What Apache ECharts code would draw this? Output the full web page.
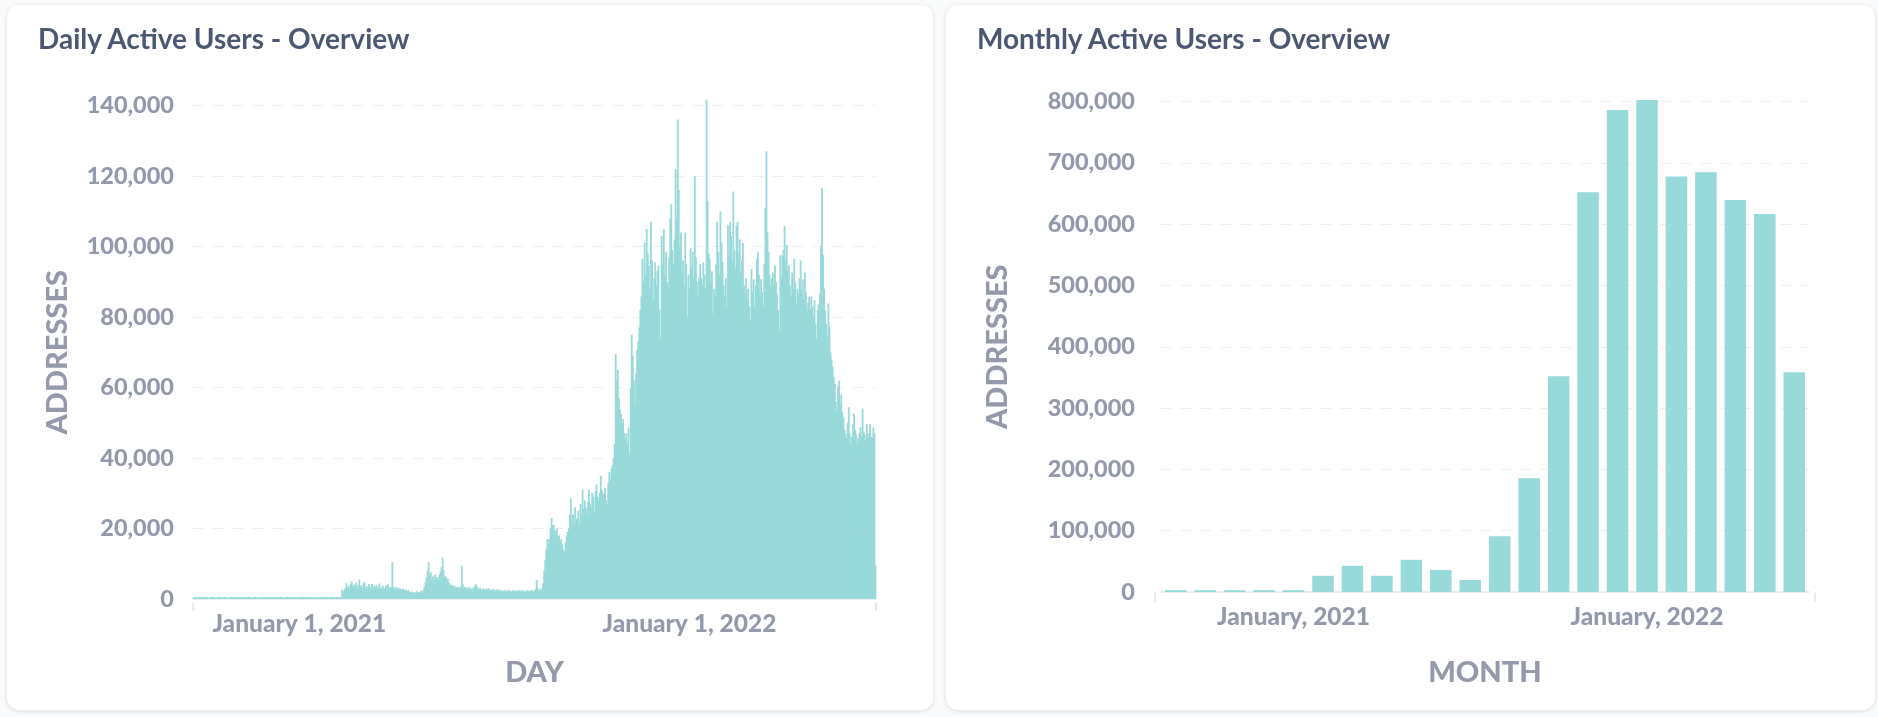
<!DOCTYPE html>
<html><head><meta charset="utf-8">
<script src="https://cdn.jsdelivr.net/npm/echarts@6/dist/echarts.min.js"></script>
<style>
html,body{margin:0;padding:0;width:1878px;height:717px;background:#F9FAFB;overflow:hidden;font-family:Lato,sans-serif;}
.card{position:absolute;top:5px;height:705px;background:#fff;border-radius:12px;box-shadow:0 1px 4px rgba(0,0,0,0.13);}
#c1{left:7px;width:926px;}
#c2{left:946px;width:929px;}
.chart{position:absolute;left:0;top:0;width:100%;height:100%;}
.title{position:absolute;left:31px;top:16px;font-family:Lato;font-weight:700;font-size:28px;line-height:normal;color:#4C5773;white-space:nowrap;}
</style></head>
<body>
<div class="card" id="c1"><div class="chart" id="ch1"></div><div class="title">Daily Active Users - Overview</div></div>
<div class="card" id="c2"><div class="chart" id="ch2"></div><div class="title">Monthly Active Users - Overview</div></div>
<script>
// ---- DATA ----
const dailyStartDate = '2020-09-24';
// daily active addresses, in thousands, one value per day from dailyStartDate
const dailyA = [
0.5,0.4,0.6,0.5,0.3,0.5,0.6,0.4,0.5,0.5,
0.4,0.6,0.5,0.5,0.3,0.4,0.5,0.6,0.5,0.4,
0.5,0.4,0.3,0.5,0.6,0.5,0.4,0.5,0.5,0.6,
0.4,0.5,0.3,0.4,0.5,0.6,0.5,0.4,0.5,0.5,
0.6,0.4,0.5,0.3,0.5,0.4,0.6,0.5,0.4,0.5,
0.5,0.4,0.6,0.5,0.3,0.4,0.5,0.5,0.6,0.4,
0.5,0.3,0.4,0.5,0.6,0.5,0.4,0.5,0.5,0.4,
0.6,0.5,0.4,0.5,0.3,0.5,0.6,0.4,0.5,0.5,
0.4,0.5,0.6,0.5,0.4,0.3,0.5,0.5,0.6,0.4,
0.5,0.4,0.5,0.6,0.5,0.4,0.5,0.3,0.5,0.6,
0.4,0.5,0.5,0.6,0.4,0.5,0.3,0.5,0.4,0.6,
0.5,0.5,0.4,0.6,0.5,0.3,0.5,0.4,0.5,0.6,
0.4,0.5,0.5,0.6,0.4,0.5,0.3,0.5,0.4,0.5,
0.6,0.5,0.4,0.5,0.5,0.6,0.4,0.5,0.5];
const dailyB = [
2.7,1.8,2.5,3.2,4.5,3.1,3.8,2.9,4.2,5.0,3.6,
4.1,3.3,4.6,3.0,3.9,5.5,3.4,4.0,3.2,4.4,
4.8,3.1,3.6,2.8,4.2,3.5,3.0,4.3,2.9,3.7,
3.2,4.0,2.8,3.5,4.4,3.1,2.9,3.8,3.3,2.7,
3.9,3.0,4.2,2.8,3.4,3.1,10.5,3.3,2.9,3.5,
2.7,3.2,2.6,3.0,2.8,2.4,2.9,2.6,2.3,2.7,
2.2,2.5,2.0,1.8,2.1,1.7,2.0,1.9,1.6,2.2,
1.8,2.0,1.7,2.4,1.9,2.6,3.5,4.8,6.2,8.0,
10.5,6.8,7.5,5.2,6.4,5.0,7.0,5.6,6.2,5.4,
6.8,7.8,9.0,11.7,8.2,6.0,6.4,5.2,5.8,4.6,
4.2,3.6,4.0,3.3,3.8,3.1,3.5,2.9,3.4,3.0,
3.6,9.5,4.2,3.0,3.5,2.7,3.2,2.8,3.4,2.6,
3.0,2.7,3.3,3.5,4.2,3.6,3.0,2.6,3.2,2.8,
2.5,3.0,2.7,2.4,2.9,2.6,3.1,2.3,2.7,2.5,
2.9,2.4,2.6,2.2,2.8,2.5,2.3,2.7,2.1,2.4,
2.2,2.6,2.0,2.3,2.5,2.1,2.4,2.2,2.0,2.5,
2.3,2.1,2.4,2.0,2.6,2.2,2.3,2.5,2.1,2.4,
2.2,2.0,2.5,2.3,2.1,2.4,2.2,2.6,2.0,2.3,
2.8,5.4,3.2,2.4,2.6,3.0,2.5];
const dailyC = [
4.5,8.0,11.0,14.0,17.0,15.5,17.0,20.0,23.0,21.0,
21.0,19.5,18.5,20.0,17.5,18.0,16.0,17.0,15.5,14.0,
13.5,16.0,18.0,19.0,20.0,24.0,28.6,22.0,24.0,21.0,
26.0,22.5,23.0,25.0,21.5,27.0,24.0,31.0,25.5,28.0,
26.0,24.0,27.5,31.0,27.0,26.0,30.0,29.0,25.0,30.5,
32.5,29.0,28.0,30.0,35.0,31.0,30.0,29.5,31.5,28.0,
27.0,33.0,36.0,34.0,37.0,38.0,40.0,44.0];
const dailyD = [
69.5,62.0,65.0,57.0,54.0,52.5,50.0,51.0,47.0,45.7,
47.0,44.0,48.7,41.0,60.0,75.0,69.0,62.0,55.5,64.0,70.6,73.0,77.0];
const dailyE = [
82.0,85.8,96.5,90.0,101.0,92.0,105.0,98.0,94.6,88.0,
107.0,96.0,84.8,91.0,95.5,89.0,93.0,94.6,82.0,74.0,
103.0,95.0,105.0,92.0,98.5,90.0,88.0,97.0,108.0,112.0,
99.0,95.0,102.0,122.0,108.0,136.0,116.0,100.0,104.0,93.0,
96.0,89.0,104.0,95.0,80.0,92.0,88.0,99.5,94.0,98.5,
91.0,120.0,97.0,90.0,86.0,91.0,95.0,91.0,89.0,95.5,
92.0,88.0];
const dailyF = [
141.7,113.0,98.0,96.5,90.0,93.0,81.0,88.0,86.0,95.0,
107.0,98.5,92.0,110.0,101.0,95.5,89.0,86.0,91.0,83.0,
106.0,97.0,107.0,103.0,96.0,115.6,99.0,94.0,106.0,107.0,
98.0,102.0,92.6,96.0,101.0,89.0,86.6,91.0,84.8,88.0,
83.0,79.0,93.6,87.0,90.7,83.0,89.0,96.5,98.5,92.0,
86.6,90.7,87.0,83.0,95.0,111.0,127.0];
const dailyG = [
104.0,98.5,92.0,88.8,91.0,92.6,89.0,94.6,90.0,86.6,
82.0,76.0,97.5,91.0,97.5,99.0,105.8,96.0,100.5,93.0,
94.6,89.0,86.0,92.6,88.0,96.5,89.7,84.0,88.0,86.6,
91.0,96.0,88.0,90.7,85.0,92.6,87.0,81.9,84.0,85.8,
82.0,85.8,83.0,80.0,84.8,78.0,74.0,82.0,83.8,86.6,
100.0,116.6,97.5,88.0,81.9,78.0,74.9,83.8,77.0,70.0,
68.0,65.8,63.0,61.0];
const dailyH = [
56.0,53.5,60.0,62.0,55.0,58.0,53.0,51.6,48.0,47.0,
45.7,50.0,54.4,47.0,43.8,46.0,49.6,52.6,48.0,46.7,
44.0,45.7,47.0,48.7,46.0,54.0,47.5,46.7,45.0,49.6,
45.7,47.0,49.6,46.0,45.7,48.7,47.0,9.6];

const monthCategories = ['2020-09','2020-10','2020-11','2020-12','2021-01','2021-02','2021-03','2021-04','2021-05','2021-06','2021-07','2021-08','2021-09','2021-10','2021-11','2021-12','2022-01','2022-02','2022-03','2022-04','2022-05','2022-06'];
const monthlyValues = [3000,3000,3000,3000,3000,26400,42700,26400,52500,35900,19600,91000,185500,352000,652000,786000,802500,677600,684500,639500,616500,358500];

const monthNames = ['January','February','March','April','May','June','July','August','September','October','November','December'];
const dailyTicks = [0,20000,40000,60000,80000,100000,120000,140000];
const monthlyTicks = [0,100000,200000,300000,400000,500000,600000,700000,800000];

// ---- BUILD ----
const dailyThousands = [].concat(dailyA,dailyB,dailyC,dailyD,dailyE,dailyF,dailyG,dailyH);
const dailyValues = dailyThousands.map(v => Math.round(v*1000));
const startMs = Date.parse(dailyStartDate + 'T00:00:00Z');
const dailyDates = dailyValues.map((_, i) => new Date(startMs + i*86400000).toISOString().slice(0,10));

const GREY = '#949AAB';
const BAR = '#98D9D9';
const FONT = 'Lato';
const fmt = v => Number(v).toLocaleString('en-US');
const yLabel = {fontFamily:FONT, fontSize:23.5, fontWeight:900, color:GREY};
const xLabel = {fontFamily:FONT, fontSize:24.5, fontWeight:900, color:GREY};
const nameStyle = {fontFamily:FONT, fontSize:29, fontWeight:900, color:GREY};
const splitLine = {show:true, lineStyle:{color:'#EDEEF0', width:1, type:[10,10]}};

function tickAxis(gi, offset, len){
  return {type:'value', gridIndex:gi, min:0, max:1, interval:1, position:'bottom', offset:offset,
    axisLine:{show:false}, axisLabel:{show:false}, splitLine:{show:false},
    axisTick:{show:true, length:len, lineStyle:{color:'#E3E5E9', width:1.5}}};
}

const ch1 = echarts.init(document.getElementById('ch1'));
ch1.setOption({
  animation:false,
  grid:[{left:186, top:100.5, width:683, height:493.5}],
  xAxis:[{
    type:'category', data:dailyDates, boundaryGap:true,
    axisLine:{show:true, lineStyle:{color:'#EDEEF0', width:2}},
    axisTick:{show:false},
    axisLabel:Object.assign({}, xLabel, {margin:13,
      interval:(i, v) => v.slice(5) === '01-01',
      formatter:v => monthNames[+v.slice(5,7)-1] + ' ' + (+v.slice(8)) + ', ' + v.slice(0,4)}),
    name:'DAY', nameLocation:'middle', nameGap:59, nameTextStyle:nameStyle
  }, tickAxis(0, 4, 8)],
  yAxis:[{
    type:'value', min:dailyTicks[0], max:dailyTicks[dailyTicks.length-1], interval:dailyTicks[1]-dailyTicks[0],
    axisLine:{show:false}, axisTick:{show:false},
    axisLabel:Object.assign({}, yLabel, {margin:19, formatter:fmt}),
    splitLine:splitLine,
    name:'ADDRESSES', nameLocation:'middle', nameGap:121, nameTextStyle:nameStyle
  }],
  series:[{type:'bar', data:dailyValues, xAxisIndex:0, yAxisIndex:0, barWidth:1.8, barGap:'-100%', clip:false,
    itemStyle:{color:BAR}}]
});

const ch2 = echarts.init(document.getElementById('ch2'));
ch2.setOption({
  animation:false,
  grid:[{left:215, top:96.5, width:648, height:490.5},{left:208.5, top:96.5, width:660.5, height:490.5}],
  xAxis:[{
    type:'category', data:monthCategories, boundaryGap:true, gridIndex:0,
    axisLine:{show:true, lineStyle:{color:'#EDEEF0', width:2}},
    axisTick:{show:false},
    axisLabel:Object.assign({}, xLabel, {margin:13,
      interval:(i, v) => v.slice(5) === '01',
      formatter:v => monthNames[+v.slice(5,7)-1] + ', ' + v.slice(0,4)}),
    name:'MONTH', nameLocation:'middle', nameGap:66, nameTextStyle:nameStyle
  }, tickAxis(1, 1, 10)],
  yAxis:[{
    type:'value', gridIndex:0, min:monthlyTicks[0], max:monthlyTicks[monthlyTicks.length-1], interval:monthlyTicks[1]-monthlyTicks[0],
    axisLine:{show:false}, axisTick:{show:false},
    axisLabel:Object.assign({}, yLabel, {margin:26, formatter:fmt}),
    splitLine:splitLine,
    name:'ADDRESSES', nameLocation:'middle', nameGap:149, nameTextStyle:nameStyle
  },{type:'value', gridIndex:1, show:false, min:0, max:1}],
  series:[{type:'bar', data:monthlyValues, xAxisIndex:0, yAxisIndex:0, barCategoryGap:'27%', clip:false,
    itemStyle:{color:BAR}}]
});
</script>
</body></html>
